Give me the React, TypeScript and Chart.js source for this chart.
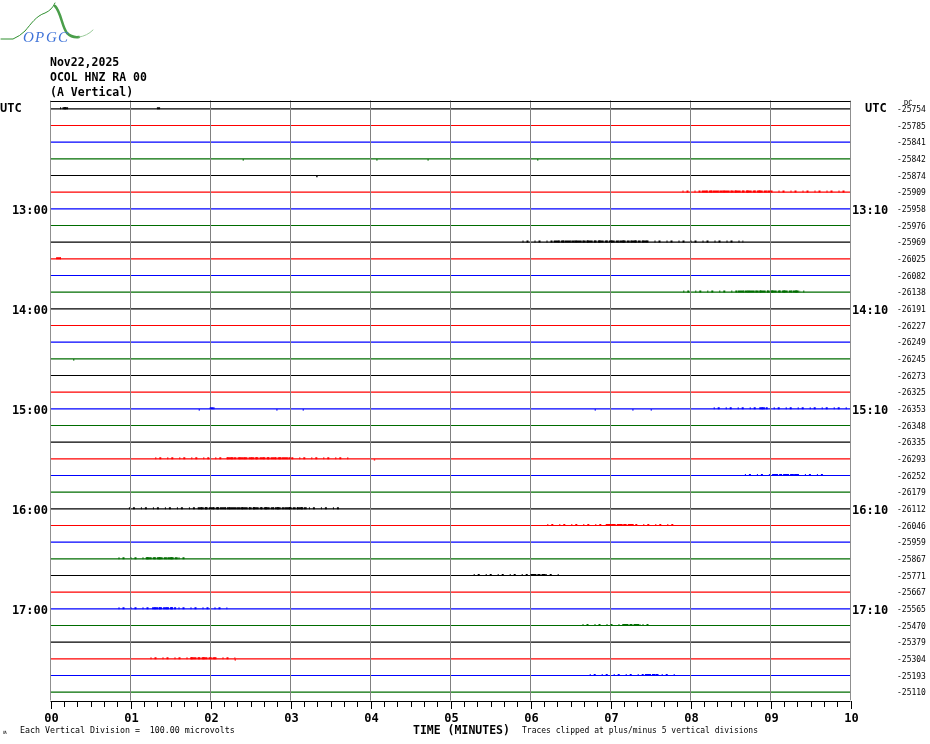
import React, { useEffect, useRef } from 'react';
import { Chart, registerables } from 'chart.js';

Chart.register(...registerables);

// ---------- data ----------
const rowCount = 36;
const traceColors = ['#000000', '#ff0000', '#0000ff', '#006c00'];
const minuteLabels = ['00', '01', '02', '03', '04', '05', '06', '07', '08', '09', '10'];
const hourRows = [6, 12, 18, 24, 30];
const leftHourLabels = ['13:00', '14:00', '15:00', '16:00', '17:00'];
const rightHourLabels = ['13:10', '14:10', '15:10', '16:10', '17:10'];
const dcValues = [
  -25754, -25785, -25841, -25842, -25874, -25909, -25958, -25976, -25969, -26025, -26082, -26138,
  -26191, -26227, -26249, -26245, -26273, -26325, -26353, -26348, -26335, -26293, -26252, -26179,
  -26112, -26046, -25959, -25867, -25771, -25667, -25565, -25470, -25379, -25304, -25193, -25110,
];
const headerLines = ['Nov22,2025', 'OCOL HNZ RA 00', '(A Vertical)'];
// bursts: [row, sparseStart, denseStart, denseEnd, sparseEnd] (minutes)
const bursts: number[][] = [
  [0, 0.12, 0.15, 0.22, 0.24],
  [0, 1.33, 1.34, 1.37, 1.38],
  [5, 7.9, 8.14, 9.0, 9.95],
  [8, 5.9, 6.29, 7.46, 8.66],
  [9, 0.07, 0.08, 0.13, 0.13],
  [11, 7.91, 8.59, 9.37, 9.44],
  [18, 1.99, 2.0, 2.04, 2.05],
  [18, 8.29, 8.86, 8.93, 9.98],
  [21, 1.31, 2.2, 3.0, 3.73],
  [22, 8.68, 9.02, 9.35, 9.71],
  [24, 0.98, 1.84, 3.21, 3.65],
  [25, 6.21, 6.94, 7.29, 7.84],
  [27, 0.85, 1.19, 1.6, 1.75],
  [28, 5.29, 6.0, 6.19, 6.38],
  [30, 0.85, 1.27, 1.57, 2.21],
  [31, 6.65, 7.15, 7.38, 7.54],
  [33, 1.25, 1.75, 2.06, 2.31],
  [34, 6.74, 7.43, 7.6, 7.84],
];
// isolated spikes: [row, minute]
const spikes: number[][] = [
  [3, 2.41], [3, 4.08], [3, 4.72], [3, 6.09],
  [4, 3.33], [15, 0.29],
  [18, 1.86], [18, 2.83], [18, 3.16], [18, 6.81], [18, 7.28], [18, 7.51],
  [21, 4.05], [33, 2.31],
];

// ---------- helpers ----------
const rowY = (r: number) => r + 0.5;
const colorOf = (r: number) => traceColors[r % 4];

function buildDatasets() {
  const ds: any[] = [];
  // vertical minute grid
  for (let k = 0; k < minuteLabels.length; k++) {
    ds.push({
      data: [{ x: k, y: 0 }, { x: k, y: rowCount }],
      showLine: true,
      borderColor: '#808080',
      borderWidth: 1,
      pointRadius: 0,
      order: 1,
    });
  }
  // baselines
  for (let r = 0; r < rowCount; r++) {
    ds.push({
      data: [{ x: 0, y: rowY(r) }, { x: 10, y: rowY(r) }],
      showLine: true,
      borderColor: colorOf(r),
      borderWidth: 1.2,
      pointRadius: 0,
      order: 2,
    });
  }
  // bursts
  bursts.forEach((b) => {
    const [r, s0, d0, d1, s1] = b;
    ds.push({
      data: [{ x: s0, y: rowY(r) - 0.035 }, { x: s1, y: rowY(r) - 0.035 }],
      showLine: true,
      borderColor: colorOf(r),
      borderWidth: 2,
      borderDash: [1, 3, 2, 6],
      pointRadius: 0,
      order: 0,
    });
    ds.push({
      data: [{ x: d0, y: rowY(r) - 0.035 }, { x: d1, y: rowY(r) - 0.035 }],
      showLine: true,
      borderColor: colorOf(r),
      borderWidth: 2,
      borderDash: [6, 1, 3, 1],
      pointRadius: 0,
      order: 0,
    });
  });
  // spikes
  ds.push({
    data: spikes.map((s) => ({ x: s[1], y: rowY(s[0]) + 0.06 })),
    showLine: false,
    pointStyle: 'rect',
    pointRadius: 1,
    borderWidth: 0,
    pointBackgroundColor: spikes.map((s) => colorOf(s[0])),
    order: 0,
  });
  return ds;
}

const mono = '"DejaVu Sans Mono", "Liberation Mono", monospace';

const decorPlugin = {
  id: 'helicorderDecor',
  afterDraw(chart: any) {
    const { ctx } = chart;
    const xs = chart.scales.x;
    const ys = chart.scales.y;
    const left = xs.getPixelForValue(0);
    const right = xs.getPixelForValue(10);
    const top = ys.getPixelForValue(0);
    const bottom = ys.getPixelForValue(rowCount);
    ctx.save();

    // frame top and bottom axis line
    ctx.strokeStyle = '#000';
    ctx.lineWidth = 1;
    ctx.beginPath();
    ctx.moveTo(left, Math.round(top) + 0.5);
    ctx.lineTo(right, Math.round(top) + 0.5);
    ctx.moveTo(left, Math.round(bottom) + 0.5);
    ctx.lineTo(right, Math.round(bottom) + 0.5);
    ctx.stroke();

    // bottom ticks every 10 seconds
    ctx.beginPath();
    for (let i = 0; i <= 60; i++) {
      const px = Math.round(xs.getPixelForValue(i / 6)) + 0.5;
      const len = i % 6 === 0 ? 8 : 6;
      ctx.moveTo(px, Math.round(bottom));
      ctx.lineTo(px, Math.round(bottom) + len);
    }
    ctx.stroke();

    // minute labels
    ctx.fillStyle = '#000';
    ctx.font = `bold 12px ${mono}`;
    ctx.textAlign = 'center';
    ctx.textBaseline = 'alphabetic';
    minuteLabels.forEach((l, k) => {
      ctx.fillText(l, xs.getPixelForValue(k) + 1, 722);
    });
    ctx.textAlign = 'left';
    ctx.font = `bold 11.5px ${mono}`;
    ctx.fillText('TIME (MINUTES)', 413, 734);
    ctx.font = `8px ${mono}`;
    ctx.fillText('Traces clipped at plus/minus 5 vertical divisions', 522, 733);
    ctx.font = `8.3px ${mono}`;
    ctx.fillText('Each Vertical Division =  100.00 microvolts', 20, 733);
    ctx.font = `6px ${mono}`;
    ctx.fillText('\u028d', 3, 734);

    // header
    ctx.font = `bold 11.5px ${mono}`;
    headerLines.forEach((t, i) => ctx.fillText(t, 50, 66 + i * 15));

    // UTC + hour labels
    const y0 = ys.getPixelForValue(rowY(0));
    ctx.font = `bold 12px ${mono}`;
    ctx.textAlign = 'left';
    ctx.fillText('UTC', 0, y0 + 3);
    ctx.fillText('UTC', 865, y0 + 3);
    hourRows.forEach((r, i) => {
      const py = ys.getPixelForValue(rowY(r)) + 5;
      ctx.textAlign = 'right';
      ctx.fillText(leftHourLabels[i], 48, py);
      ctx.textAlign = 'left';
      ctx.fillText(rightHourLabels[i], 852, py);
    });

    // DC values
    ctx.font = `8px ${mono}`;
    ctx.textAlign = 'left';
    dcValues.forEach((v, r) => {
      const py = ys.getPixelForValue(rowY(r)) + 3;
      ctx.fillText(String(v), 897, py);
    });
    ctx.font = `7px ${mono}`;
    ctx.fillText('DC', 904, 105);

    // logo
    ctx.lineCap = 'round';
    ctx.strokeStyle = '#2f8f2f';
    ctx.lineWidth = 1;
    ctx.beginPath();
    ctx.moveTo(1, 39);
    ctx.lineTo(13, 39);
    ctx.quadraticCurveTo(20, 36, 25, 31);
    ctx.bezierCurveTo(31, 24, 36, 16, 45, 13);
    ctx.quadraticCurveTo(52, 10, 55, 3);
    ctx.stroke();
    ctx.lineWidth = 2.5;
    ctx.strokeStyle = '#4a9e4a';
    ctx.beginPath();
    ctx.moveTo(55, 6);
    ctx.bezierCurveTo(61, 12, 62, 27, 67, 33);
    ctx.quadraticCurveTo(72, 38, 79, 37);
    ctx.stroke();
    ctx.lineWidth = 1;
    ctx.strokeStyle = '#9acb9a';
    ctx.beginPath();
    ctx.moveTo(79, 37);
    ctx.quadraticCurveTo(87, 36, 93, 30);
    ctx.stroke();
    ctx.font = 'italic 15px "Liberation Serif", serif';
    ctx.fillStyle = '#3f73d8';
    ctx.fillText('O', 23, 42);
    ctx.fillText('P', 35, 42);
    ctx.fillText('G', 46, 42);
    ctx.fillText('C', 58, 42);

    ctx.restore();
  },
};

export default function App() {
  const canvasRef = useRef<HTMLCanvasElement | null>(null);

  useEffect(() => {
    if (!canvasRef.current) return;
    const chart = new Chart(canvasRef.current, {
      type: 'scatter',
      data: { datasets: buildDatasets() },
      options: {
        animation: false,
        responsive: false,
        events: [],
        layout: { padding: { left: 50.5, right: 79.5, top: 100.5, bottom: 43.5 } },
        plugins: { legend: { display: false }, tooltip: { enabled: false } },
        scales: {
          x: { type: 'linear', min: 0, max: 10, display: false },
          y: { type: 'linear', min: 0, max: rowCount, reverse: true, display: false },
        },
      },
      plugins: [decorPlugin],
    });
    return () => chart.destroy();
  }, []);

  return (
    <div style={{ position: 'absolute', left: 0, top: 0, width: 930, height: 744, background: '#fff' }}>
      <canvas ref={canvasRef} width={930} height={744} style={{ display: 'block' }} />
    </div>
  );
}
